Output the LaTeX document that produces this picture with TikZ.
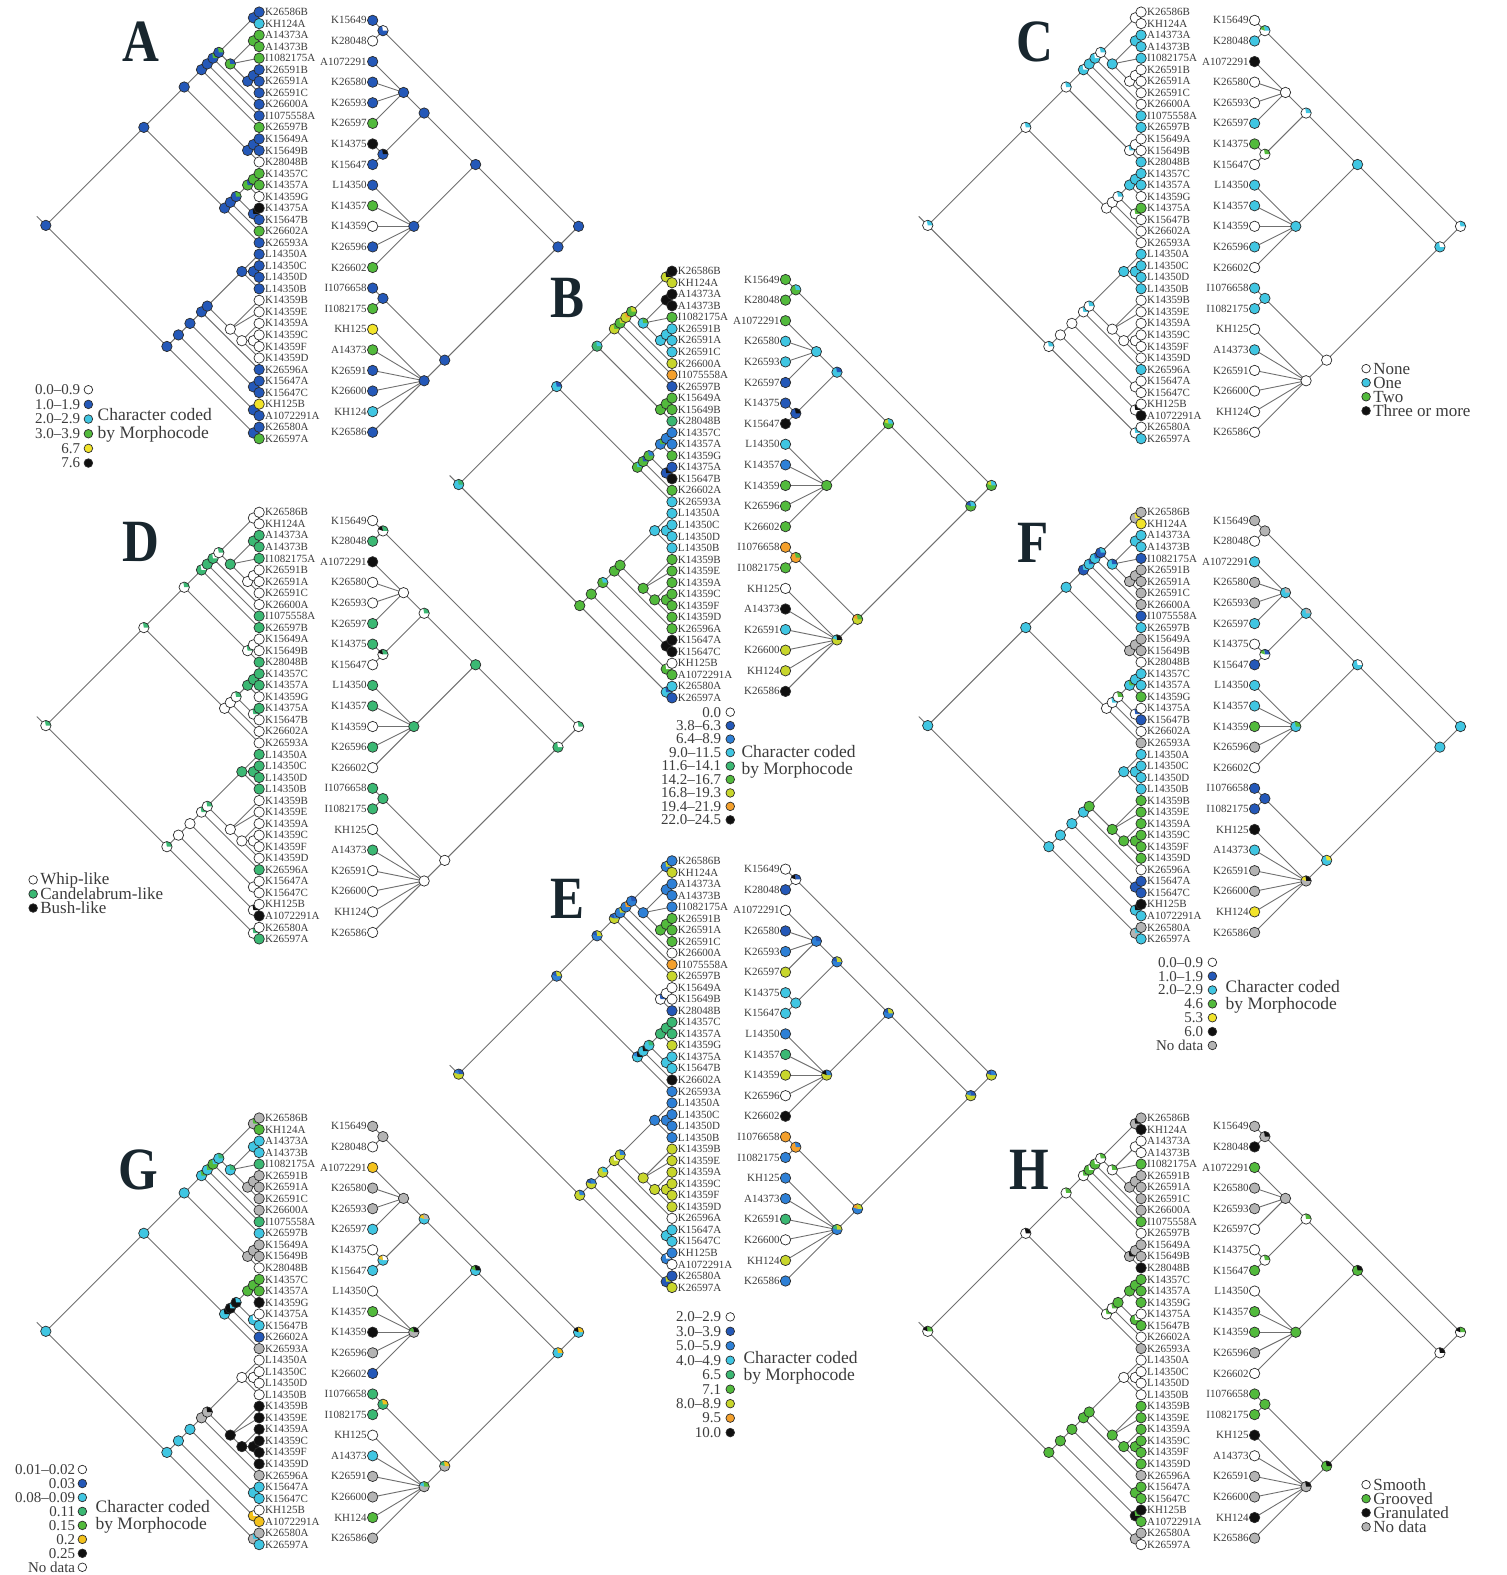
\documentclass[tikz,border=0pt]{standalone}
\usepackage{fontspec}
\setmainfont{Liberation Serif}
\usetikzlibrary{calc}
\definecolor{clw}{HTML}{FFFFFF}
\definecolor{clb}{HTML}{2458B8}
\definecolor{clm}{HTML}{2E80D6}
\definecolor{clc}{HTML}{40C6E2}
\definecolor{clt}{HTML}{3BB873}
\definecolor{clg}{HTML}{52BA3C}
\definecolor{cly}{HTML}{F2E42A}
\definecolor{clu}{HTML}{F4C21C}
\definecolor{cll}{HTML}{C8D62C}
\definecolor{clo}{HTML}{F4A02C}
\definecolor{clk}{HTML}{101010}
\definecolor{clx}{HTML}{B4B4B4}
\definecolor{edgec}{HTML}{707070}
\definecolor{outc}{HTML}{2C2C2C}
\definecolor{labc}{HTML}{3C3C3C}
\definecolor{letc}{HTML}{18262E}
\tikzset{
  edge/.style={draw=edgec, line width=0.9pt},
  ring/.style={draw=outc, line width=0.7pt},
  tiplab/.style={font=\fontsize{11}{12}\selectfont, text=labc, inner sep=0pt},
  leglab/.style={font=\fontsize{15}{16}\selectfont, text=labc, inner sep=0pt},
  legword/.style={font=\fontsize{17}{18}\selectfont, text=labc, inner sep=0pt},
  legbig/.style={font=\fontsize{17.5}{18}\selectfont, text=labc, inner sep=0pt},
  letter/.style={font=\fontsize{60}{60}\selectfont\bfseries, text=letc, inner sep=0pt},
}
\def\nodelistL{L,U,T,T11,T10,T9,T8,P12,Q,P34,R,P67,S,P1213,M,M20,M19,N,P1516,P1819,B,B36,B34,B32,B31,G,P2324,H,H2,P2930,P3334,P3536,P3738}
\def\nodelistR{r,rp12,r3,r4,r5,r6,r78,r9,r10,r1415,r16}
\def\leftlabels{K26586B,KH124A,A14373A,A14373B,I1082175A,K26591B,K26591A,K26591C,K26600A,I1075558A,K26597B,K15649A,K15649B,K28048B,K14357C,K14357A,K14359G,K14375A,K15647B,K26602A,K26593A,L14350A,L14350C,L14350D,L14350B,K14359B,K14359E,K14359A,K14359C,K14359F,K14359D,K26596A,K15647A,K15647C,KH125B,A1072291A,K26580A,K26597A}
\def\rightlabels{K15649,K28048,A1072291,K26580,K26593,K26597,K14375,K15647,L14350,K14357,K14359,K26596,K26602,I1076658,I1082175,KH125,A14373,K26591,K26600,KH124,K26586}
\newcommand\setallnodes[1]{%
  \foreach \n in \nodelistL {\expandafter\xdef\csname ncol\n\endcsname{#1}}%
  \foreach \n in \nodelistR {\expandafter\xdef\csname ncol\n\endcsname{#1}}}
\newcommand\setnc[1]{\foreach \n/\v in {#1} {\expandafter\xdef\csname ncol\n\endcsname{\v}}}
\def\pienode#1#2{\expandafter\pieparse#2\relax\relax\relax\pieend{#1}}
\def\pieparse#1#2#3#4\pieend#5{%
  \fill[cl#1] (#5) circle (5.2pt);
  \ifx\relax#2\else\fill[cl#2] (#5) -- ++(0:5.2pt) arc[start angle=0,end angle=100,radius=5.2pt] -- cycle;\fi
  \ifx\relax#3\else\fill[cl#3] (#5) -- ++(100:5.2pt) arc[start angle=100,end angle=160,radius=5.2pt] -- cycle;\fi
  \draw[ring] (#5) circle (5.2pt);}
\newcommand\drawpanel[5]{%
  \def\pp{#1}\def\ox{#2}\def\oy{#3}%
  \pgfmathsetmacro\rx{#2+113}\pgfmathsetmacro\ry{#3+8.3}%
  \foreach \i in {1,...,38} {\coordinate (\pp-t\i) at (\ox,{\oy+(\i-1)*11.48});}
  \foreach \i in {1,...,21} {\coordinate (\pp-s\i) at (\rx,{\ry+(\i-1)*20.5});}
  \foreach \cn/\na/\nb in {L/1/38,U/1/21,T/1/14,T11/1/11,T10/1/10,T9/1/9,T8/1/8,P12/1/2,Q/3/8,P34/3/4,R/6/8,P67/6/7,S/12/14,P1213/12/13,M/15/21,M20/15/20,M19/15/19,N/15/17,P1516/15/16,P1819/18/19,B/22/38,B36/22/36,B34/22/34,B32/22/32,B31/22/31,G/22/25,P2324/23/24,H/26/31,H2/28/31,P2930/29/30,P3334/33/34,P3536/35/36,P3738/37/38}
    {\coordinate (\pp-\cn) at ({\ox-(\nb-\na)*5.74},{\oy+(\na+\nb-2)*5.74});}
  \foreach \cn/\na/\nb in {r/1/21,rp12/1/2,r3/3/21,r4/3/13,r5/3/8,r6/3/6,r78/7/8,r9/9/13,r10/14/21,r1415/14/15,r16/16/21}
    {\coordinate (\pp-\cn) at ({\rx+(\nb-\na)*10.25},{\ry+(\na+\nb-2)*10.25});}
  \coordinate (\pp-stub) at ($(\pp-L)+(-9,-9)$);
  \draw[edge] (\pp-stub) -- (\pp-L);
  \foreach \ea/\eb in {L/U,L/B,U/T,U/M,T/T11,T/S,T11/T10,T11/t11,T10/T9,T10/t10,T9/T8,T9/t9,T8/P12,T8/Q,P12/t1,P12/t2,Q/P34,Q/t5,Q/R,P34/t3,P34/t4,R/P67,R/t8,P67/t6,P67/t7,S/P1213,S/t14,P1213/t12,P1213/t13,M/M20,M/t21,M20/M19,M20/t20,M19/N,M19/P1819,N/P1516,N/t17,P1516/t15,P1516/t16,P1819/t18,P1819/t19,B/B36,B/P3738,B36/B34,B36/P3536,B34/B32,B34/P3334,B32/B31,B32/t32,B31/G,B31/H,G/t22,G/P2324,G/t25,P2324/t23,P2324/t24,H/t26,H/t27,H/H2,H2/t28,H2/P2930,H2/t31,P2930/t29,P2930/t30,P3334/t33,P3334/t34,P3536/t35,P3536/t36,P3738/t37,P3738/t38,r/rp12,r/r3,rp12/s1,rp12/s2,r3/r4,r3/r10,r4/r5,r4/r9,r5/r6,r5/r78,r6/s3,r6/s4,r6/s5,r6/s6,r78/s7,r78/s8,r9/s9,r9/s10,r9/s11,r9/s12,r9/s13,r10/r1415,r10/r16,r1415/s14,r1415/s15,r16/s16,r16/s17,r16/s18,r16/s19,r16/s20,r16/s21}
    {\draw[edge] (\pp-\ea) -- (\pp-\eb);}
  \foreach \cn in \nodelistL {\edef\curspec{\csname ncol\cn\endcsname}\pienode{\pp-\cn}{\curspec}}
  \foreach \cn in \nodelistR {\edef\curspec{\csname ncol\cn\endcsname}\pienode{\pp-\cn}{\curspec}}
  \foreach \cc [count=\i] in {#4} {\draw[ring, fill=cl\cc] (\pp-t\i) circle (5.2pt);}
  \foreach \cc [count=\i] in {#5} {\draw[ring, fill=cl\cc] (\pp-s\i) circle (5.2pt);}
  \foreach \lab [count=\i] in \leftlabels {\node[tiplab, anchor=west] (\pp-lt\i) at ([xshift=5.8pt]\pp-t\i) {\lab};}
  \foreach \lab [count=\i] in \rightlabels {\node[tiplab, anchor=east] (\pp-ls\i) at ([xshift=-5.8pt]\pp-s\i) {\lab};}
}
% numeric legend: prefix, right edge x, circle x, y0, dy, list
\newcommand\numlegend[6]{%
  \foreach \tx/\cc [count=\i] in {#6} {%
    \pgfmathsetmacro\yy{#4+(\i-1)*#5}
    \node[leglab, anchor=east] (#1-leg\i) at (#2,\yy) {\tx};
    \draw[ring, fill=cl\cc] (#3,\yy) circle (4.3pt);}}
\newcommand\wordlegend[5]{%
  \foreach \tx/\cc [count=\i] in {#5} {%
    \pgfmathsetmacro\yy{#3+(\i-1)*#4}
    \draw[ring, fill=cl\cc] (#2,\yy) circle (4.3pt);
    \node[legword, anchor=west] (#1-leg\i) at (#2+7,\yy) {\tx};}}
\begin{document}
\begin{tikzpicture}[x=1.0047pt,y=-1.0047pt]
\fill[white] (0,0) rectangle (1500,1568);
\useasboundingbox (0,0) rectangle (1500,1568);

% ---------- A
\setallnodes{b}
\setnc{Q/gb,P34/g,P1516/g,N/gb,M19/bg,P1819/bk,H/w,H2/w,P2930/w,rp12/bw,r78/bk,T8/bg,T9/bg}
\drawpanel{A}{258}{12}{b,c,g,g,g,b,b,b,b,b,g,b,b,w,g,g,w,k,b,g,b,b,b,b,b,w,w,w,w,w,w,b,b,b,y,b,b,g}{b,w,b,b,b,g,k,b,b,g,w,b,g,b,g,y,g,b,b,c,b}
\node[letter] (A-letter) at (140,42) {\scalebox{0.85}[1]{A}};
\numlegend{A}{80}{88}{388}{14.6}{0.0--0.9/w,1.0--1.9/b,2.0--2.9/c,3.0--3.9/g,6.7/y,7.6/k}
\node[legbig, anchor=west] (A-cc1) at (97,413) {Character coded};
\node[legbig, anchor=west] (A-cc2) at (97,432) {by Morphocode};

% ---------- B
\setallnodes{g}
\setnc{L/ct,U/cb,T/tc,T11/lg,T10/gl,T9/lo,T8/gl,P12/lk,Q/cg,P34/k,R/c,P67/c,M/gc,M20/gb,M19/gm,N/mg,P1516/m,P1819/bk,B34/gc,G/c,P2324/c,P3334/k,P3536/gw,P3738/cb,r/gcl,rp12/gc,r3/gcb,r4/gcl,r5/cb,r6/c,r78/bk,r10/lgo,r1415/og,r16/lkc}
\drawpanel{B}{669}{270}{k,l,k,k,g,c,c,c,l,o,b,g,g,t,m,m,g,b,k,g,c,c,c,c,c,g,g,g,g,g,g,g,k,k,w,g,c,b}{g,g,g,c,c,b,b,k,c,m,g,g,g,o,g,w,k,c,l,l,k}
\node[letter] (B-letter) at (565,297) {\scalebox{0.85}[1]{B}};
\numlegend{B}{718}{727}{709}{13.4}{0.0/w,3.8--6.3/b,6.4--8.9/m,9.0--11.5/c,11.6--14.1/t,14.2--16.7/g,16.8--19.3/l,19.4--21.9/o,22.0--24.5/k}
\node[legbig, anchor=west] (B-cc1) at (738,748) {Character coded};
\node[legbig, anchor=west] (B-cc2) at (738,767) {by Morphocode};

% ---------- C
\setallnodes{w}
\setnc{L/wc,U/wc,T/wc,T11/cw,T10/c,T9/cw,T8/wc,Q/c,P34/c,S/wc,N/c,P1516/c,M19/wc,P1819/wg,B/wc,B32/wc,B31/wc,G/c,P2324/c,P3738/wc,P3536/wk,r/wc,rp12/wcg,r3/cw,r4/c,r5/wc,r78/wg,r9/c,r1415/c}
\drawpanel{C}{1136}{12}{w,w,c,c,c,w,w,w,w,c,c,w,w,c,c,c,w,g,w,w,w,c,c,c,c,w,w,w,w,w,w,c,w,w,w,k,w,c}{w,c,k,w,w,c,g,w,c,c,w,c,w,c,c,w,c,w,w,w,w}
\node[letter] (C-letter) at (1030,42) {\scalebox{0.85}[1]{C}};
\wordlegend{C}{1360}{367}{14}{None/w,One/c,Two/g,Three or more/k}

% ---------- D
\setallnodes{w}
\setnc{L/wt,U/wt,T/wt,T11/tw,T10/t,T9/tw,T8/wt,Q/t,P34/t,S/wt,N/t,P1516/t,M19/wt,P1819/wt,B/wt,B32/wt,B31/wt,G/t,P2324/t,P3738/wt,P3536/wk,r/wt,rp12/wtk,r3/tw,r4/t,r5/wt,r78/wtk,r9/t,r1415/t}
\drawpanel{D}{258}{510}{w,w,t,t,t,w,w,w,w,t,t,w,w,t,t,t,w,t,w,w,w,t,t,t,t,w,w,w,w,w,w,t,w,w,w,k,w,t}{w,t,k,w,w,t,t,w,t,t,w,t,w,t,t,w,t,w,w,w,w}
\node[letter] (D-letter) at (140,540) {\scalebox{0.85}[1]{D}};
\wordlegend{D}{33}{876}{14}{Whip-like/w,Candelabrum-like/t,Bush-like/k}

% ---------- E
\setallnodes{l}
\setnc{L/lbm,U/mlb,T/mlb,T11/lmb,T10/ml,T9/mo,T8/mb,P12/ml,Q/m,P34/m,R/g,P67/g,S/wb,P1213/w,M/ckm,M20/ck,M19/ct,N/t,P1516/t,P1819/c,B/lm,B36/lmb,B34/lc,B32/lw,B31/lm,G/m,P2324/m,P3334/c,P3536/mw,P3738/bl,r/lmb,rp12/wbk,r3/lbm,r4/mlb,r5/mlb,r6/mb,r78/c,r9/lmk,r10/mlo,r1415/om,r16/mlt}
\drawpanel{E}{669}{857}{m,l,m,m,m,g,g,g,w,o,l,w,w,b,t,t,l,c,c,k,m,m,m,m,m,l,l,l,l,l,l,w,c,c,m,w,b,l}{w,b,w,b,m,l,c,c,m,t,l,w,k,o,m,m,m,t,w,l,m}
\node[letter] (E-letter) at (565,895) {\scalebox{0.85}[1]{E}};
\numlegend{E}{718}{727}{1311}{14.4}{2.0--2.9/w,3.0--3.9/b,5.0--5.9/m,4.0--4.9/c,6.5/t,7.1/g,8.0--8.9/l,9.5/o,10.0/k}
\node[legbig, anchor=west] (E-cc1) at (740,1351) {Character coded};
\node[legbig, anchor=west] (E-cc2) at (740,1370) {by Morphocode};

% ---------- F
\setallnodes{c}
\setnc{T11/bc,T10/cb,T9/cb,T8/bc,P12/xy,Q/cb,R/x,P67/x,S/x,P1213/x,M/w,M20/wc,M19/wg,N/cg,P1819/wb,B31/g,H/g,H2/g,P2930/g,P3334/b,P3536/ck,P3738/xc,r4/cw,r5/cx,r6/cx,r78/wbg,r9/cg,r10/cy,r1415/b,r16/xky,rp12/x}
\drawpanel{F}{1136}{510}{x,y,c,c,b,x,x,x,x,b,c,x,x,w,c,c,g,w,b,w,x,c,c,c,c,g,g,g,g,g,g,w,b,b,k,c,x,c}{x,w,c,x,x,c,w,b,c,c,g,x,w,b,b,k,c,x,x,y,x}
\node[letter] (F-letter) at (1028,540) {\scalebox{0.85}[1]{F}};
\numlegend{F}{1198}{1207}{958}{13.8}{0.0--0.9/w,1.0--1.9/b,2.0--2.9/c,4.6/g,5.3/y,6.0/k,No data/x}
\node[legbig, anchor=west] (F-cc1) at (1220,982) {Character coded};
\node[legbig, anchor=west] (F-cc2) at (1220,1001) {by Morphocode};

% ---------- G
\setallnodes{c}
\setnc{T11/cg,T10/cg,T9/gc,T8/ct,P12/xg,Q/ct,R/x,P67/x,S/x,P1213/x,M/ck,M20/kc,M19/kc,N/g,P1516/g,P1819/cw,B32/x,B31/xk,G/w,P2324/w,H/k,H2/k,P2930/k,P3536/uw,P3738/xc,r/cuk,rp12/x,r3/cu,r4/ckg,r5/cxu,r6/x,r78/cwu,r9/xkg,r10/xut,r1415/tu,r16/xgc}
\drawpanel{G}{258}{1113}{x,g,c,c,t,x,x,x,x,t,c,x,x,w,g,g,k,w,c,b,x,w,w,w,w,k,k,k,k,k,k,x,c,c,w,u,x,c}{x,w,u,x,x,c,w,c,w,g,k,x,b,t,t,w,c,x,x,g,x}
\node[letter] (G-letter) at (138,1165) {\scalebox{0.85}[1]{G}};
\numlegend{G}{75}{82}{1463}{13.9}{0.01--0.02/w,0.03/b,0.08--0.09/c,0.11/t,0.15/g,0.2/u,0.25/k,No data/w}
\node[legbig, anchor=west] (G-cc1) at (95,1500) {Character coded};
\node[legbig, anchor=west] (G-cc2) at (95,1519) {by Morphocode};

% ---------- H
\setallnodes{g}
\setnc{L/wgk,U/wk,T/wg,T11/wg,T10/gw,T9/gw,T8/wg,P12/xk,Q/wg,P34/w,R/x,P67/x,S/xk,P1213/x,M/wg,M20/wg,P1819/gw,G/w,P2324/w,P3536/kg,P3738/x,r/wgk,rp12/xk,r3/wk,r4/gk,r5/wg,r6/x,r78/wg,r10/gk,r16/xk}
\drawpanel{H}{1136}{1113}{x,k,w,w,g,x,x,x,x,g,w,x,x,k,g,g,g,w,g,w,x,w,w,w,w,g,g,g,g,g,g,x,g,g,k,g,x,w}{x,k,g,x,x,w,w,g,w,g,g,x,w,g,g,k,w,x,x,k,x}
\node[letter] (H-letter) at (1025,1165) {\scalebox{0.85}[1]{H}};
\wordlegend{H}{1360}{1478}{14}{Smooth/w,Grooved/g,Granulated/k,No data/x}
\end{tikzpicture}
\end{document}
